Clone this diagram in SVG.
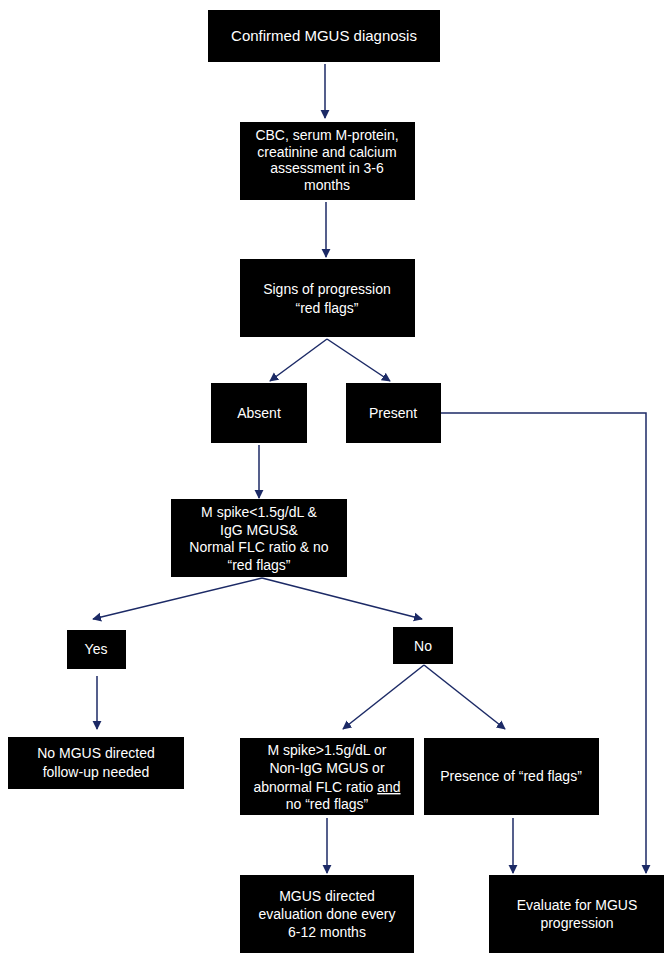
<svg xmlns="http://www.w3.org/2000/svg" width="671" height="960" viewBox="0 0 671 960">
<style>
.box{fill:#000;}
.t{fill:#fff;font-family:"Liberation Sans",Arial,sans-serif;font-size:14px;text-anchor:middle;}
.c{stroke:#1c2a66;stroke-width:1.5;fill:none;}
</style>
<defs>
<marker id="ah" viewBox="0 0 10 10" refX="9" refY="5" markerWidth="9" markerHeight="10" markerUnits="userSpaceOnUse" orient="auto">
<path d="M0,0 L10,5 L0,10 z" fill="#1c2a66"/>
</marker>
</defs>
<rect width="671" height="960" fill="#fff"/>
<g id="connectors">
<line class="c" x1="325" y1="64" x2="325" y2="118" marker-end="url(#ah)"/>
<line class="c" x1="326" y1="202" x2="326" y2="257" marker-end="url(#ah)"/>
<line class="c" x1="327" y1="339" x2="270" y2="381" marker-end="url(#ah)"/>
<line class="c" x1="327" y1="339" x2="390" y2="381" marker-end="url(#ah)"/>
<polyline class="c" points="441,413 646,413 646,873" marker-end="url(#ah)"/>
<line class="c" x1="259" y1="445" x2="259" y2="498" marker-end="url(#ah)"/>
<line class="c" x1="262" y1="578" x2="93" y2="619" marker-end="url(#ah)"/>
<line class="c" x1="262" y1="578" x2="422" y2="619" marker-end="url(#ah)"/>
<line class="c" x1="97" y1="676" x2="97" y2="729" marker-end="url(#ah)"/>
<line class="c" x1="424" y1="665" x2="343" y2="729" marker-end="url(#ah)"/>
<line class="c" x1="424" y1="665" x2="505" y2="729" marker-end="url(#ah)"/>
<line class="c" x1="327" y1="818" x2="327" y2="873" marker-end="url(#ah)"/>
<line class="c" x1="513" y1="818" x2="513" y2="873" marker-end="url(#ah)"/>
</g>
<g id="n1"><rect class="box" x="208" y="10" width="232" height="52"/><text class="t" x="324" y="41" style="font-size:15px">Confirmed MGUS diagnosis</text></g>
<g id="n2"><rect class="box" x="240" y="122" width="175" height="78"/>
<text class="t" x="327" y="140">CBC, serum M-protein,</text>
<text class="t" x="327" y="157">creatinine and calcium</text>
<text class="t" x="327" y="173">assessment in 3-6</text>
<text class="t" x="327" y="190">months</text></g>
<g id="n3"><rect class="box" x="240" y="259" width="175" height="78"/>
<text class="t" x="327" y="294">Signs of progression</text>
<text class="t" x="327" y="313">“red flags”</text></g>
<g id="n4"><rect class="box" x="211" y="383" width="96" height="60"/><text class="t" x="259" y="418">Absent</text></g>
<g id="n5"><rect class="box" x="346" y="383" width="95" height="60"/><text class="t" x="393" y="418">Present</text></g>
<g id="n6"><rect class="box" x="171" y="499" width="176" height="78"/>
<text class="t" x="259" y="517">M spike&lt;1.5g/dL &amp;</text>
<text class="t" x="259" y="535">IgG MGUS&amp;</text>
<text class="t" x="259" y="552">Normal FLC ratio &amp; no</text>
<text class="t" x="259" y="570">“red flags”</text></g>
<g id="n7"><rect class="box" x="67" y="630" width="59" height="39"/><text class="t" x="96" y="654">Yes</text></g>
<g id="n8"><rect class="box" x="393" y="627" width="60" height="37"/><text class="t" x="423" y="651">No</text></g>
<g id="n9"><rect class="box" x="8" y="737" width="176" height="52"/>
<text class="t" x="96" y="758">No MGUS directed</text>
<text class="t" x="96" y="777">follow-up needed</text></g>
<g id="n10"><rect class="box" x="240" y="738" width="174" height="77"/>
<text class="t" x="327" y="755">M spike&gt;1.5g/dL or</text>
<text class="t" x="327" y="773">Non-IgG MGUS or</text>
<text class="t" x="327" y="792">abnormal FLC ratio <tspan text-decoration="underline">and</tspan></text>
<text class="t" x="327" y="809">no “red flags”</text></g>
<g id="n11"><rect class="box" x="424" y="738" width="175" height="77"/>
<text class="t" x="511" y="781">Presence of “red flags”</text></g>
<g id="n12"><rect class="box" x="240" y="875" width="174" height="78"/>
<text class="t" x="327" y="901">MGUS directed</text>
<text class="t" x="327" y="919">evaluation done every</text>
<text class="t" x="327" y="937">6-12 months</text></g>
<g id="n13"><rect class="box" x="489" y="875" width="175" height="78"/>
<text class="t" x="577" y="910">Evaluate for MGUS</text>
<text class="t" x="577" y="928">progression</text></g>
</svg>
